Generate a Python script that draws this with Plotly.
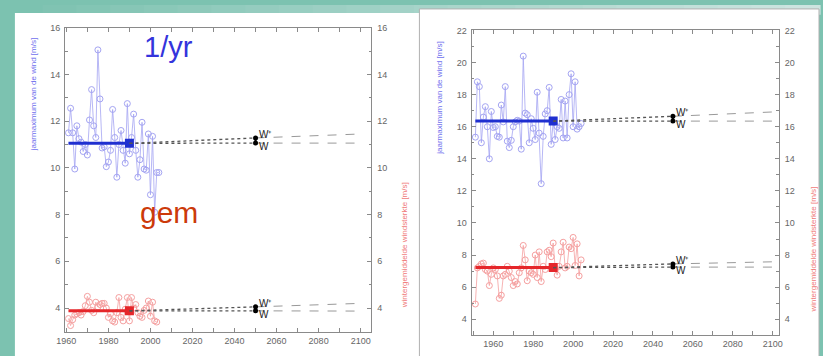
import plotly.graph_objects as go

W, H = 823, 356

# ---------------- data: left panel ----------------
left_max_years = list(range(1961, 2005))
left_max = [11.5, 12.55, 11.5, 9.95, 11.8, 11.25, 11.1, 10.7, 11.0, 10.55,
            12.05, 13.35, 11.8, 11.3, 15.05, 12.95, 10.85, 10.9, 10.05, 10.25,
            10.75, 12.5, 11.3, 9.6, 11.0, 11.6, 10.75, 10.2, 12.75, 10.6,
            11.3, 12.3, 10.75, 9.6, 10.35, 11.95, 9.95, 9.9, 11.45, 8.85,
            11.35, 8.1, 9.8, 9.8]
left_mean_years = list(range(1961, 2004))
left_mean = [3.55, 3.25, 3.5, 3.7, 3.75, 3.8, 3.7, 3.85, 4.1, 4.5,
             4.25, 3.9, 3.8, 4.25, 4.05, 4.15, 4.2, 4.2, 4.0, 3.6,
             3.75, 3.45, 3.4, 3.8, 4.45, 3.6, 3.45, 3.95, 4.45, 3.45,
             4.45, 4.0, 4.15, 3.8, 3.65, 3.6, 3.9, 4.0, 4.3, 3.65,
             4.25, 3.45, 3.4]
left_ref_period = [1961, 1990]
left_max_ref = 11.05
left_mean_ref = 3.88
scen_years = [1990, 2050, 2100]
left_max_wplus = [11.05, 11.28, 11.45]
left_max_w = [11.05, 11.06, 11.06]
left_mean_wplus = [3.88, 4.05, 4.2]
left_mean_w = [3.88, 3.88, 3.87]

# ---------------- data: right panel ----------------
right_years = list(range(1951, 2005))
right_max = [15.35, 18.8, 18.5, 15.0, 16.6, 17.25, 16.0, 14.0, 16.95, 15.95,
             16.0, 15.4, 15.35, 17.35, 16.3, 18.5, 15.1, 14.7, 15.15, 16.0,
             16.3, 16.4, 16.35, 14.6, 20.4, 16.85, 16.75, 15.0, 16.5, 15.9,
             15.2, 18.15, 15.6, 12.45, 15.4, 16.8, 17.0, 18.45, 14.9, 16.3,
             15.2, 16.0, 15.9, 17.7, 15.3, 17.6, 15.3, 18.0, 19.3, 16.0,
             18.8, 15.85, 16.0, 16.2]
right_mean = [4.95, 7.2, 7.3, 7.45, 7.5, 7.1, 7.0, 6.1, 6.8, 7.2,
              7.1, 6.7, 5.3, 5.5, 6.7, 6.8, 7.3, 7.0, 6.6, 6.1,
              6.35, 6.2, 6.9, 7.2, 8.6, 7.7, 6.4, 7.0, 6.9, 6.8,
              8.0, 6.6, 8.2, 6.35, 7.3, 7.1, 8.2, 8.3, 7.9, 8.75,
              7.2, 6.75, 7.3, 8.2, 8.8, 7.2, 7.3, 8.5, 8.4, 9.1,
              7.35, 8.7, 6.7, 7.7]
right_ref_period = [1951, 1990]
right_max_ref = 16.35
right_mean_ref = 7.22
right_max_wplus = [16.35, 16.65, 16.92]
right_max_w = [16.35, 16.35, 16.35]
right_mean_wplus = [7.22, 7.45, 7.58]
right_mean_w = [7.22, 7.25, 7.25]

left_yticks = [4, 6, 8, 10, 12, 14, 16]
right_yticks = [4, 6, 8, 10, 12, 14, 16, 18, 20, 22]
xticks = [1960, 1980, 2000, 2020, 2040, 2060, 2080, 2100]

LIGHT_BLUE = "#a4a4f2"
DARK_BLUE = "#1f2fd0"
LIGHT_RED = "#f5a0a0"
DARK_RED = "#e5262a"
TITLE_BLUE = "#6f6fee"
TITLE_RED = "#f07a7a"
AXC = "#8a8a8a"
TXT = "#666666"


def px(x):
    return x / W


def py(y):
    return 1 - y / H


fig = go.Figure()


def add_panel(xa, ya, yrs_max, vmax, yrs_mean, vmean, ref_period,
              ref_max, ref_mean, max_wp, max_w, mean_wp, mean_w):
    # yearly series
    for yrs, vals, col in ((yrs_max, vmax, LIGHT_BLUE), (yrs_mean, vmean, LIGHT_RED)):
        fig.add_trace(go.Scatter(x=yrs, y=vals, xaxis=xa, yaxis=ya, mode="lines+markers",
                                 line=dict(color=col, width=0.8),
                                 marker=dict(symbol="circle-open", size=6, color=col,
                                             line=dict(width=1, color=col)),
                                 hoverinfo="skip"))
    # reference means
    for ref, col in ((ref_max, DARK_BLUE), (ref_mean, DARK_RED)):
        fig.add_trace(go.Scatter(x=ref_period, y=[ref, ref], xaxis=xa, yaxis=ya,
                                 mode="lines", line=dict(color=col, width=3),
                                 hoverinfo="skip"))
        fig.add_trace(go.Scatter(x=[ref_period[1]], y=[ref], xaxis=xa, yaxis=ya,
                                 mode="markers", marker=dict(symbol="square", size=9, color=col),
                                 hoverinfo="skip"))
    # scenarios
    for wp, w in ((max_wp, max_w), (mean_wp, mean_w)):
        for s in (wp, w):
            fig.add_trace(go.Scatter(x=scen_years[:2], y=s[:2], xaxis=xa, yaxis=ya,
                                     mode="lines", line=dict(color="#555555", width=1.3, dash="dot"),
                                     hoverinfo="skip"))
            fig.add_trace(go.Scatter(x=scen_years[1:], y=s[1:], xaxis=xa, yaxis=ya,
                                     mode="lines", line=dict(color="#999999", width=1, dash="dash"),
                                     hoverinfo="skip"))
        fig.add_trace(go.Scatter(x=[scen_years[1], scen_years[1]], y=[wp[1], w[1]],
                                 xaxis=xa, yaxis=ya, mode="lines+markers",
                                 line=dict(color="black", width=2),
                                 marker=dict(size=5, color="black"), hoverinfo="skip"))
        fig.add_annotation(x=scen_years[1], y=wp[1], xref=xa, yref=ya, text="W⁺",
                           showarrow=False, xanchor="left", yanchor="bottom", xshift=1, yshift=-4,
                           font=dict(size=10, color="#222222"))
        fig.add_annotation(x=scen_years[1], y=w[1], xref=xa, yref=ya, text="W",
                           showarrow=False, xanchor="left", yanchor="top", xshift=1, yshift=4,
                           font=dict(size=10, color="#222222"))


add_panel("x", "y", left_max_years, left_max, left_mean_years, left_mean, left_ref_period,
          left_max_ref, left_mean_ref, left_max_wplus, left_max_w, left_mean_wplus, left_mean_w)
add_panel("x2", "y3", right_years, right_max, right_years, right_mean, right_ref_period,
          right_max_ref, right_mean_ref, right_max_wplus, right_max_w, right_mean_wplus, right_mean_w)

# bind right-side label axes
fig.add_trace(go.Scatter(x=[], y=[], xaxis="x", yaxis="y2", hoverinfo="skip"))
fig.add_trace(go.Scatter(x=[], y=[], xaxis="x2", yaxis="y4", hoverinfo="skip"))

tickfont = dict(size=9, color=TXT)


def xax(domain, rng, anchor):
    return dict(domain=domain, range=rng, anchor=anchor, tickvals=xticks,
                ticks="inside", ticklen=4, tickcolor=AXC, showline=True, linecolor=AXC,
                mirror="ticks", showgrid=False, zeroline=False, tickfont=tickfont,
                minor=dict(dtick=10, tick0=1960, ticks="inside", ticklen=4, tickcolor=AXC))


def yax(domain, rng, anchor, tv):
    return dict(domain=domain, range=rng, anchor=anchor, tickvals=tv,
                ticks="inside", ticklen=4, tickcolor=AXC, showline=True, linecolor=AXC,
                mirror="ticks", showgrid=False, zeroline=False, tickfont=tickfont,
                ticklabelstandoff=2,
                minor=dict(dtick=1, tick0=0, ticks="inside", ticklen=2.5, tickcolor=AXC))


def yax_right(over, anchor, rng, tv):
    return dict(overlaying=over, anchor=anchor, side="right", range=rng, tickvals=tv,
                ticks="", showline=False, showgrid=False, zeroline=False,
                tickfont=tickfont, ticklabelstandoff=5)


# background: teal slide with gradient top strip and white panels
shapes = []
steps = 24
c0 = (124, 194, 176)
c1 = (205, 228, 224)
for i in range(steps):
    t = i / (steps - 1)
    col = "rgb(%d,%d,%d)" % tuple(round(a + (b - a) * t) for a, b in zip(c0, c1))
    shapes.append(dict(type="rect", xref="paper", yref="paper", layer="below",
                       x0=i / steps, x1=(i + 1) / steps + 0.002, y0=py(10), y1=1,
                       fillcolor=col, line=dict(width=0)))
shapes.append(dict(type="rect", xref="paper", yref="paper", layer="below",
                   x0=px(6), x1=px(418), y0=0, y1=py(8), fillcolor="white", line=dict(width=0)))
shapes.append(dict(type="rect", xref="paper", yref="paper", layer="below",
                   x0=px(417), x1=px(823), y0=-0.01, y1=py(4), fillcolor="white",
                   line=dict(width=1, color="#b0b0b0")))


def note(x, y, text, size, color, angle=0):
    return dict(x=px(x), y=py(y), xref="paper", yref="paper", text=text, textangle=angle,
                xanchor="center", yanchor="middle", showarrow=False,
                font=dict(size=size, color=color))


annotations = [
    note(25, 91, "jaarmaximum van de wind [m/s]", 8, TITLE_BLUE, -90),
    note(402, 244, "wintergemiddelde windsterkte [m/s]", 8, TITLE_RED, -90),
    note(438, 95, "jaarmaximum van de wind [m/s]", 8, TITLE_BLUE, -90),
    note(817, 248, "wintergemiddelde windsterkte [m/s]", 8, TITLE_RED, -90),
    note(162, 43, "1/yr", 29, "#3434dc"),
    note(163, 210, "gem", 30, "#cc3a0a"),
]

fig.update_layout(
    width=W, height=H, margin=dict(l=0, r=0, t=0, b=0),
    paper_bgcolor="rgb(124,194,176)", plot_bgcolor="white",
    showlegend=False,
    font=dict(family="Liberation Sans, Arial, sans-serif"),
    xaxis=xax([px(57), px(368)], [1959.4, 2105], "y"),
    yaxis=yax([py(332), py(23)], [2.96, 16], "x", left_yticks),
    yaxis2=yax_right("y", "x", [2.96, 16], left_yticks),
    xaxis2=xax([px(470), px(782)], [1949.1, 2103], "y3"),
    yaxis3=yax([py(335), py(25)], [3.0, 22.05], "x2", right_yticks),
    yaxis4=yax_right("y3", "x2", [3.0, 22.05], right_yticks),
    shapes=shapes,
    annotations=list(fig.layout.annotations) + annotations,
)

fig.write_html("out.html", config={"displayModeBar": False},
               post_script="document.body.style.margin='0';document.body.style.overflow='hidden';")
